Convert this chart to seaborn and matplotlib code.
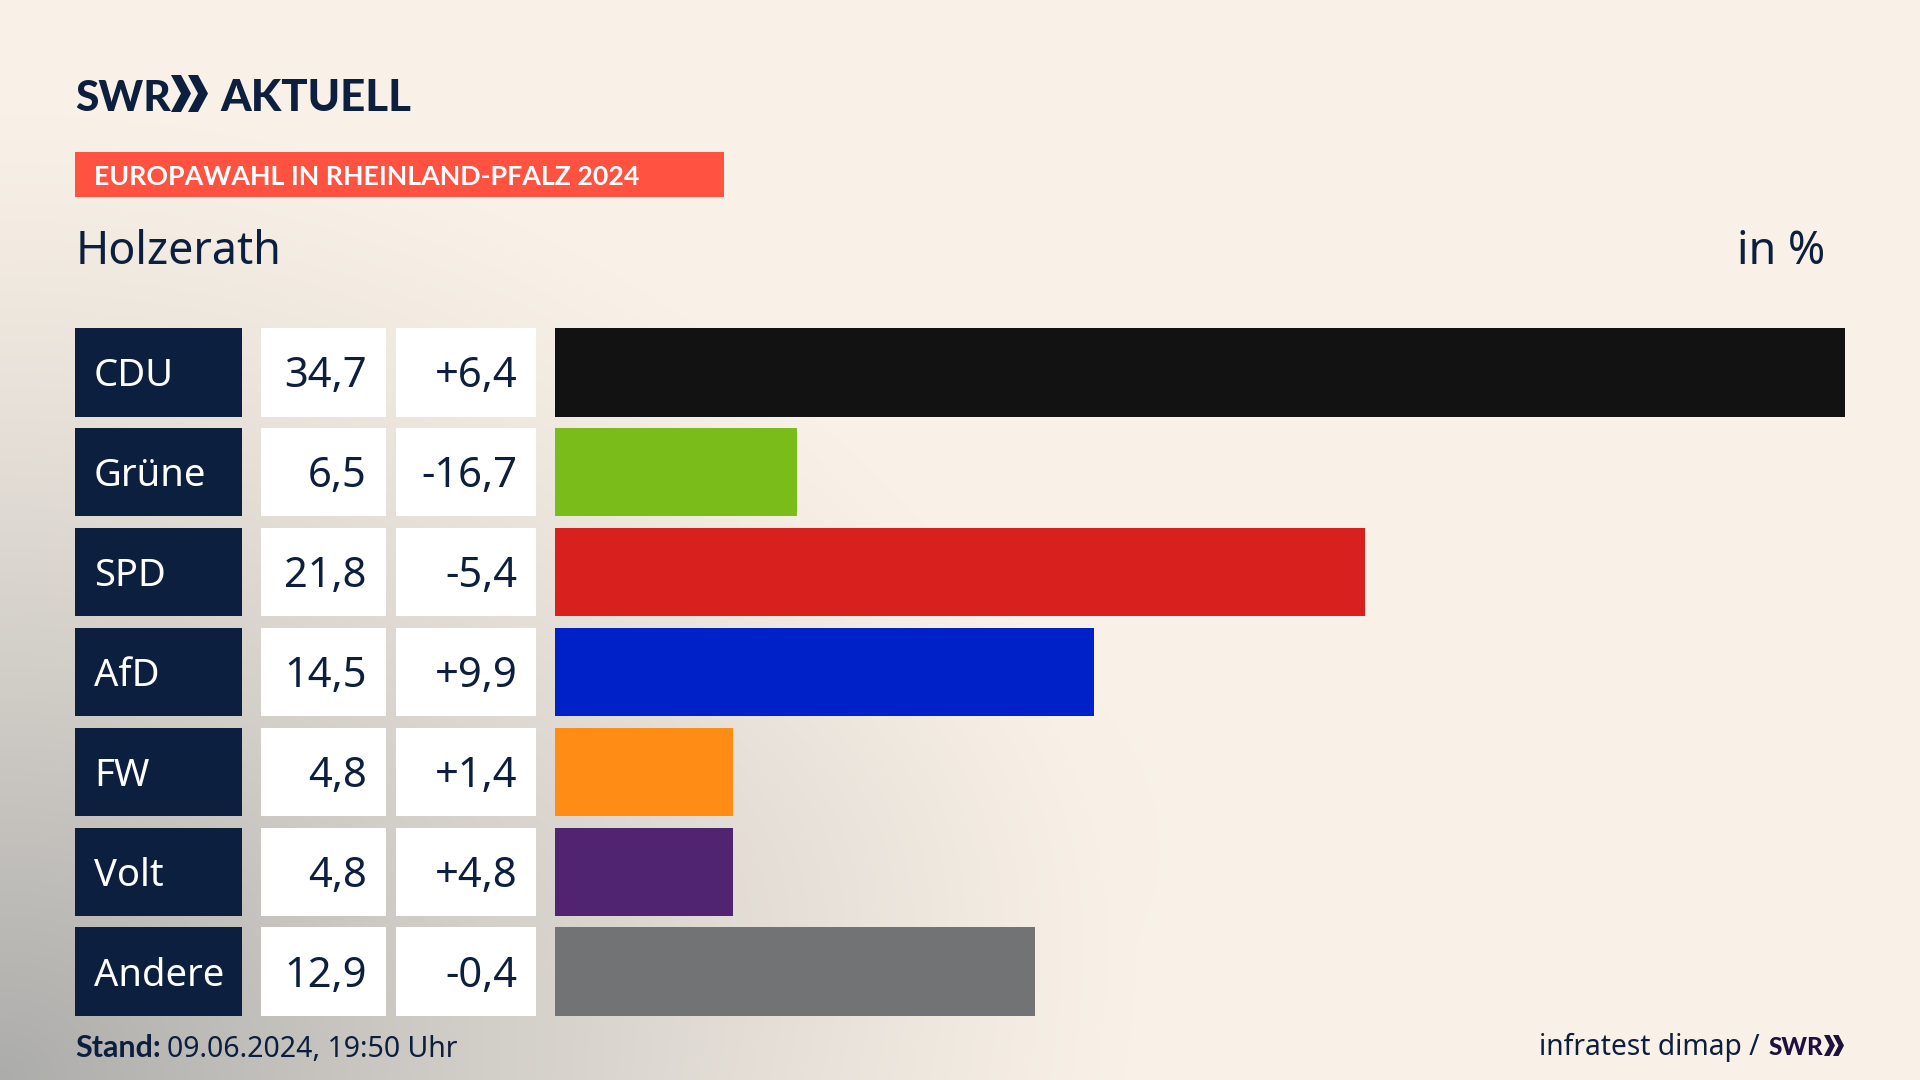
import numpy as np
import pandas as pd
import matplotlib
matplotlib.use("Agg")
import matplotlib.pyplot as plt
from matplotlib.patches import Polygon, Rectangle
import seaborn as sns

parties = ["CDU", "Grüne", "SPD", "AfD", "FW", "Volt", "Andere"]
shares = [34.7, 6.5, 21.8, 14.5, 4.8, 4.8, 12.9]
changes = [6.4, -16.7, -5.4, 9.9, 1.4, 4.8, -0.4]
bar_colors = ["#121212", "#7ABD1A", "#D8201E", "#0021C8", "#FF8C14", "#512472", "#727375"]

NAVY = "#0C1F3E"
W, H = 1920, 1080
sns.set_theme(style="white")
plt.rcParams["font.family"] = ["Noto Sans", "DejaVu Sans"]
BOLD = ["Lato", "DejaVu Sans"]

fig = plt.figure(figsize=(19.2, 10.8), dpi=100)


def axes_px(x0, x1, y0, y1, **kw):
    return fig.add_axes([x0 / W, 1 - y1 / H, (x1 - x0) / W, (y1 - y0) / H], **kw)


# background gradient
bg = axes_px(0, W, 0, H)
yy, xx = np.mgrid[0:H:270j, 0:W:480j]
cream = np.array([250, 242, 232]) / 255
gray = np.array([172, 172, 170]) / 255
d = np.sqrt((xx / 1150) ** 2 + ((H - yy) / 1000) ** 2)
a = np.clip(1 - d, 0, 1) ** 1.25
blob = 0.06 * np.exp(-(((xx - 800) / 300) ** 2 + ((yy - 850) / 220) ** 2))
a = np.clip(a + blob, 0, 1)[..., None]
bg.imshow(cream * (1 - a) + gray * a, extent=(0, W, H, 0), aspect="auto", interpolation="bilinear")
bg.axis("off")

# rows
ROW_TOP, ROW_BOTTOM = 328, 1016
BAR_W = 0.886
pad = BAR_W / 2
df = pd.DataFrame({"party": parties, "share": shares, "change": changes})


def column(x0, x1, color):
    ax = axes_px(x0, x1, ROW_TOP, ROW_BOTTOM)
    ax.patch.set_alpha(0)
    sns.barplot(data=df.assign(one=1.0), x="one", y="party", color=color, saturation=1,
                width=BAR_W, ax=ax, orient="h", linewidth=0)
    ax.set_xlim(0, 1)
    ax.set_ylim(len(parties) - 1 + pad, -pad)
    ax.axis("off")
    return ax


name_ax = column(75, 242, NAVY)
share_ax = column(261, 386, "white")
change_ax = column(396, 536, "white")

for i, row in df.iterrows():
    name_ax.text(0.114, i + 0.14, row.party, color="white", fontsize=27.5, va="baseline", ha="left")
    share_ax.text(0.845, i + 0.15, f"{row.share:.1f}".replace(".", ","), color=NAVY,
                  fontsize=30, va="baseline", ha="right")
    change_ax.text(0.868, i + 0.15, f"{row.change:+.1f}".replace(".", ","), color=NAVY,
                   fontsize=30, va="baseline", ha="right")

bar_ax = axes_px(555, 1845, ROW_TOP, ROW_BOTTOM)
bar_ax.patch.set_alpha(0)
sns.barplot(data=df, x="share", y="party", hue="party", palette=bar_colors, saturation=1,
            dodge=False, legend=False, width=BAR_W, ax=bar_ax, orient="h", linewidth=0)
bar_ax.set_xlim(0, max(shares))
bar_ax.set_ylim(len(parties) - 1 + pad, -pad)
bar_ax.axis("off")


def tpx(x, y, s, **kw):
    return fig.text(x / W, 1 - y / H, s, va="baseline", **kw)


def chevrons(x, top, bottom, w, step, color):
    mid = (top + bottom) / 2
    th = w * 0.5
    for k in range(2):
        x0 = x + k * step
        pts = [(x0, top), (x0 + th, top), (x0 + w, mid), (x0 + th, bottom), (x0, bottom), (x0 + w - th, mid)]
        fig.add_artist(Polygon([(px / W, 1 - py / H) for px, py in pts], closed=True,
                               transform=fig.transFigure, facecolor=color, edgecolor="none"))


# logo
tpx(75, 111, "SWR", color=NAVY, fontsize=30.5, fontweight="black", family=BOLD)
chevrons(171, 75, 112, 20, 17, NAVY)
tpx(220, 111, "AKTUELL", color=NAVY, fontsize=31.5, fontweight="black", family=BOLD)

# header band
fig.add_artist(Rectangle((75 / W, 1 - 197 / H), (724 - 75) / W, 45 / H, transform=fig.transFigure,
                         facecolor="#FF5240", edgecolor="none"))
tpx(94, 185, "EUROPAWAHL IN RHEINLAND-PFALZ 2024", color="white", fontsize=19.3, fontweight="bold", family=BOLD)

tpx(76, 264, "Holzerath", color=NAVY, fontsize=32.3)
tpx(1825, 264, "in %", color=NAVY, fontsize=32.3, ha="right")

# footer
tpx(75, 1057, "Stand:", color=NAVY, fontsize=22, fontweight="bold", family=BOLD)
tpx(167, 1057, "09.06.2024, 19:50 Uhr", color=NAVY, fontsize=20.5)
tpx(1760, 1055, "infratest dimap /", color=NAVY, fontsize=20.3, ha="right")
LOGO2 = "#1E1040"
tpx(1769, 1055, "SWR", color=LOGO2, fontsize=17.5, fontweight="black", family=BOLD)
chevrons(1824, 1035, 1056, 11, 9, LOGO2)

fig.savefig("out.png", dpi=100)
